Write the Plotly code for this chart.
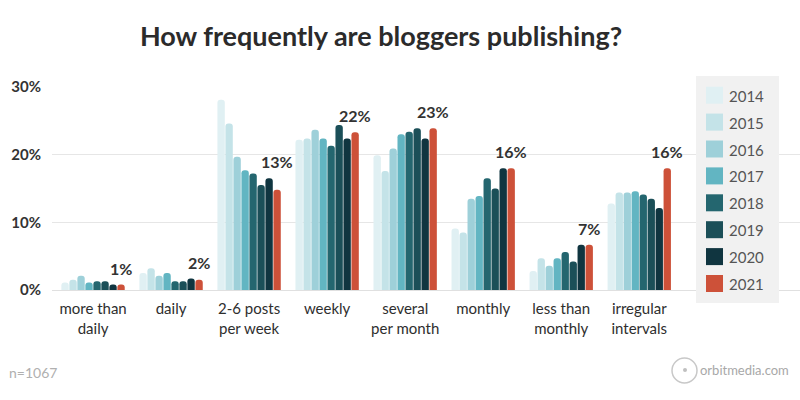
import plotly.graph_objects as go

categories = ["more than<br>daily", "daily", "2-6 posts<br>per week", "weekly",
              "several<br>per month", "monthly", "less than<br>monthly", "irregular<br>intervals"]
years = ["2014", "2015", "2016", "2017", "2018", "2019", "2020", "2021"]
colors = ["#e0f0f3", "#c4e3e8", "#9ed0d9", "#62b5c2", "#24666f", "#1b4f58", "#103540", "#cd5139"]

v2014 = [1.1, 2.5, 28.1, 22.2, 19.9, 9.1, 2.8, 12.8]
v2015 = [1.5, 3.2, 24.6, 22.4, 17.6, 8.5, 4.7, 14.4]
v2016 = [2.1, 2.1, 19.7, 23.7, 20.9, 13.5, 3.6, 14.4]
v2017 = [1.1, 2.5, 17.7, 22.4, 23.0, 13.9, 4.7, 14.6]
v2018 = [1.3, 1.3, 17.2, 21.3, 23.4, 16.5, 5.6, 14.1]
v2019 = [1.3, 1.3, 15.5, 24.4, 23.9, 15.0, 4.2, 13.5]
v2020 = [0.8, 1.7, 16.5, 22.4, 22.4, 18.0, 6.7, 12.1]
v2021 = [0.8, 1.5, 14.8, 23.3, 23.9, 18.0, 6.7, 18.0]
labels2021 = ["1%", "2%", "13%", "22%", "23%", "16%", "7%", "16%"]

y_ticks = [0, 10, 20, 30]
y_tick_labels = ["0%", "10%", "20%", "30%"]

series = [v2014, v2015, v2016, v2017, v2018, v2019, v2020, v2021]

BARGAP = 0.18
fig = go.Figure()
for name, vals, col in zip(years, series, colors):
    fig.add_trace(go.Bar(x=categories, y=vals, name=name, marker_color=col,
                         marker_line_width=0, showlegend=False, hoverinfo="skip"))

# value labels over 2021 bars
offset = (1 - BARGAP) / 2 - (1 - BARGAP) / 16
for i, (lab, a, b) in enumerate(zip(labels2021, v2020, v2021)):
    fig.add_annotation(x=i + offset, y=max(a, b), text=lab, showarrow=False,
                       yanchor="bottom", yshift=5, xref="x", yref="y",
                       font=dict(family="Lato", size=16, color="#333333", weight="bold"))

# manual legend (pixel positions converted to paper coordinates)
PL, PW, PB, PH = 52, 748, 290, 203
def px(x):
    return (x - PL) / PW
def py(y):
    return (PB - y) / PH

fig.add_shape(type="rect", xref="paper", yref="paper",
              x0=px(696), x1=px(779), y0=py(303), y1=py(76),
              fillcolor="#f1f1f1", line_width=0, layer="above")
for k, (name, col) in enumerate(zip(years, colors)):
    top = 86.7 + k * 26.9
    fig.add_shape(type="rect", xref="paper", yref="paper",
                  x0=px(706), x1=px(723), y0=py(top + 17), y1=py(top),
                  fillcolor=col, line_width=0, layer="above")
    fig.add_annotation(xref="paper", yref="paper", x=px(727), y=py(top + 9),
                       text=name, showarrow=False, xanchor="left", yanchor="middle",
                       font=dict(family="Lato", size=15, color="#555555"))

# footer
fig.add_annotation(xref="paper", yref="paper", x=px(7), y=py(372), text="n=1067",
                   showarrow=False, xanchor="left", yanchor="middle",
                   font=dict(family="Lato", size=14, color="#b0b0b0"))
fig.add_shape(type="circle", xref="paper", yref="paper",
              x0=px(672), x1=px(697), y0=py(383), y1=py(358),
              line=dict(color="#c8c8c8", width=1.5), fillcolor="rgba(0,0,0,0)")
fig.add_shape(type="circle", xref="paper", yref="paper",
              x0=px(683), x1=px(687), y0=py(372), y1=py(368),
              line_width=0, fillcolor="#c0c0c0")
fig.add_annotation(xref="paper", yref="paper", x=px(791), y=py(370),
                   text="orbitmedia.com", showarrow=False, xanchor="right", yanchor="middle",
                   font=dict(family="Lato", size=13, color="#a8a8a8"))

fig.update_layout(
    width=800, height=400,
    margin=dict(l=52, r=0, t=87, b=110),
    paper_bgcolor="white", plot_bgcolor="white",
    barmode="group", bargap=BARGAP, bargroupgap=0.08, barcornerradius=3,
    title=dict(text="<b>How frequently are bloggers publishing?</b>", x=381 / 800, xanchor="center",
               y=1 - 37 / 400, yanchor="middle", yref="container",
               font=dict(family="Lato", size=27, color="#2b2b2b")),
    xaxis=dict(range=[-0.526, 9.06], showgrid=False, showline=False, zeroline=False,
               ticklabelstandoff=8,
               tickfont=dict(family="Lato", size=15, color="#2e2e2e"), ticks=""),
    yaxis=dict(range=[0, 30], tickmode="array", tickvals=y_ticks, ticktext=y_tick_labels,
               showgrid=True, gridcolor="#e6e6e6", gridwidth=1, zeroline=True,
               zerolinecolor="#e0e0e0", zerolinewidth=1, showline=False,
               ticklabelstandoff=10,
               tickfont=dict(family="Lato", size=15, color="#333333", weight="bold")),
)

fig.write_html("out.html", config={"displayModeBar": False},
               post_script="document.body.style.margin='0';")
